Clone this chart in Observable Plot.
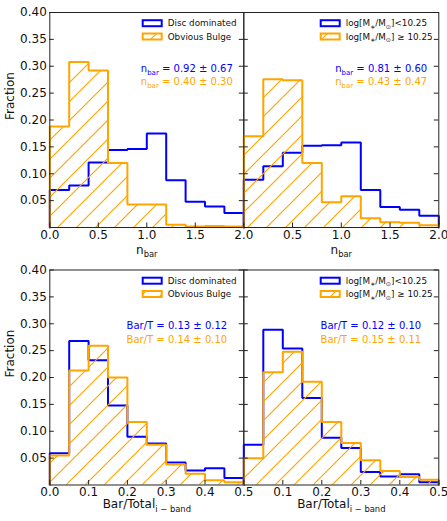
<!DOCTYPE html>
<html>
<head>
<meta charset="utf-8">
<script src="https://cdn.jsdelivr.net/npm/d3@7"></script>
<script src="https://cdn.jsdelivr.net/npm/@observablehq/plot@0.6"></script>
<style>
  body { margin: 0; background: #fff; }
  #fig { position: relative; width: 447px; height: 521px; font-family: "DejaVu Sans", sans-serif; }
  #fig svg { position: absolute; left: 0; top: 0; }
</style>
</head>
<body>
<div id="fig"></div>
<script>
// ---- bin edges ----
const nbarEdges = [0, 0.2, 0.4, 0.6, 0.8, 1.0, 1.2, 1.4, 1.6, 1.8, 2.0];
const barTEdges = [0, 0.05, 0.1, 0.15, 0.2, 0.25, 0.3, 0.35, 0.4, 0.45, 0.5];

// ---- fractions per bin: n_bar ----
const nbarDisc      = [0.070, 0.078, 0.121, 0.144, 0.146, 0.175, 0.088, 0.048, 0.039, 0.027];
const nbarBulge     = [0.188, 0.308, 0.292, 0.120, 0.043, 0.043, 0.005, 0.002, 0.003, 0.002];
const nbarLowMass   = [0.089, 0.114, 0.139, 0.152, 0.153, 0.158, 0.070, 0.038, 0.033, 0.022];
const nbarHighMass  = [0.170, 0.276, 0.274, 0.120, 0.047, 0.058, 0.017, 0.010, 0.009, 0.004];

// ---- fractions per bin: Bar/Total (i-band) ----
const barTDisc      = [0.059, 0.268, 0.232, 0.148, 0.090, 0.077, 0.042, 0.027, 0.031, 0.013];
const barTBulge     = [0.055, 0.213, 0.259, 0.200, 0.117, 0.075, 0.038, 0.021, 0.009, 0.005];
const barTLowMass   = [0.075, 0.289, 0.254, 0.162, 0.088, 0.069, 0.024, 0.016, 0.020, 0.005];
const barTHighMass  = [0.050, 0.210, 0.248, 0.192, 0.117, 0.078, 0.046, 0.026, 0.015, 0.010];

// ---- ticks ----
const yTicks     = [0.05, 0.10, 0.15, 0.20, 0.25, 0.30, 0.35, 0.40];
const nbarTicks  = [0, 0.5, 1.0, 1.5, 2.0];
const barTTicks  = [0, 0.1, 0.2, 0.3, 0.4, 0.5];

// ---- text ----
const morphLabels = ["Disc dominated", "Obvious Bulge"];
const massLabels  = ["log[M_{∗}/M_{⊙}]<10.25", "log[M_{∗}/M_{⊙}] ≥ 10.25"];
const nbarMorphStats = ["n_{bar} = 0.92 ± 0.67", "n_{bar} = 0.40 ± 0.30"];
const nbarMassStats  = ["n_{bar} = 0.81 ± 0.60", "n_{bar} = 0.43 ± 0.47"];
const barTMorphStats = ["Bar/T = 0.13 ± 0.12", "Bar/T = 0.14 ± 0.10"];
const barTMassStats  = ["Bar/T = 0.12 ± 0.10", "Bar/T = 0.15 ± 0.11"];
const yLabel = "Fraction";
const nbarLabel = "n_{bar}";
const barTLabel = "Bar/Total_{i − band}";

// ---- page layout ----
const W = 447, H = 521;
const cols = [[49.3, 243.3], [243.3, 438.3]];
const rows = [[12, 227], [269.5, 484.5]];
const ink = "#222";
const BLUE = "#0000ff", ORANGE = "#ffa500";

function binsOf(edges, vals) {
  return vals.map((y, i) => ({x1: edges[i], x2: edges[i + 1], y}));
}
function stepOf(edges, vals) {
  return [
    {x: edges[0], y: 0},
    ...binsOf(edges, vals).flatMap(d => [{x: d.x1, y: d.y}, {x: d.x2, y: d.y}]),
    {x: edges[edges.length - 1], y: 0}
  ];
}

// turn "_{...}" markup into subscript tspans
function richify(svg) {
  d3.select(svg).selectAll("text").each(function () {
    const s = this.textContent;
    if (!s.includes("_{")) return;
    const fs = parseFloat(getComputedStyle(this).fontSize) || 12;
    const shift = 0.3 * fs;
    const parts = s.split(/_\{([^}]*)\}/);
    this.textContent = "";
    let lowered = false;
    parts.forEach((p, i) => {
      if (!p) return;
      const ts = d3.select(this).append("tspan").text(p);
      if (i % 2) {
        ts.attr("font-size", 0.7 * fs);
        if (!lowered) ts.attr("dy", shift);
        lowered = true;
      } else if (lowered) {
        ts.attr("dy", -shift);
        lowered = false;
      }
    });
  });
}

let panelCount = 0;
function panel(cfg) {
  const [l, r] = cols[cfg.col];
  const [t, b] = rows[cfg.row];
  const pw = r - l, ph = b - t;
  const edges = cfg.edges;
  const hatchId = `hatch-${panelCount++}`;
  const fmtX = d3.format(".1f");
  const mid = {lineAnchor: "middle"};
  const marks = [
    Plot.line(stepOf(edges, cfg.blue), {x: "x", y: "y", stroke: BLUE, strokeWidth: 2, strokeLinejoin: "miter"}),
    Plot.rect(binsOf(edges, cfg.orange), {x1: "x1", x2: "x2", y1: d => 0, y2: "y", fill: `url(#${hatchId})`}),
    Plot.line(stepOf(edges, cfg.orange), {x: "x", y: "y", stroke: ORANGE, strokeWidth: 2, strokeLinejoin: "miter"}),
    Plot.frame({stroke: ink, strokeWidth: 1}),
    // inward ticks on left, right and bottom spines
    Plot.ruleY(yTicks, {y: d => d, insetRight: pw - 4.5, stroke: ink}),
    Plot.ruleY(yTicks, {y: d => d, insetLeft: pw - 4.5, stroke: ink}),
    Plot.ruleX(cfg.ticks, {x: d => d, insetTop: ph - 4.5, stroke: ink}),
    Plot.axisX(cfg.col === 0 ? cfg.ticks : cfg.ticks.slice(1), {
      tickSize: 0, tickPadding: cfg.row ? 2 : 3, tickFormat: fmtX, label: null, fontSize: 12
    }),
    Plot.text([cfg.xlabel], {...mid, text: d => d, frameAnchor: "bottom", dy: cfg.xlabelDy, fontSize: 12, fill: "#111"}),
    Plot.text([cfg.stats[0]], {...mid, text: d => d, frameAnchor: "top-right", textAnchor: "end",
      dx: cfg.statDx, dy: 56, fontSize: 10, fill: BLUE}),
    Plot.text([cfg.stats[1]], {...mid, text: d => d, frameAnchor: "top-right", textAnchor: "end",
      dx: cfg.statDx, dy: 69.3, fontSize: 10, fill: ORANGE})
  ];
  if (cfg.col === 0) {
    marks.push(
      Plot.axisY(yTicks, {tickSize: 0, tickPadding: 3, tickFormat: d3.format(".2f"), label: null, fontSize: 12}),
      Plot.text([yLabel], {...mid, text: d => d, frameAnchor: "left", dx: -39.3, rotate: -90, fontSize: 12, fill: "#111"})
    );
  }
  const svg = Plot.plot({
    width: W, height: H,
    marginLeft: l, marginRight: W - r, marginTop: t, marginBottom: H - b,
    x: {domain: [edges[0], edges[edges.length - 1]], axis: null},
    y: {domain: [0, 0.4], axis: null},
    style: {background: "transparent", fontFamily: "DejaVu Sans", fontSize: "12px", color: "#111", overflow: "visible"},
    marks
  });

  // diagonal hatch for the second histogram of the panel
  const pat = d3.select(svg).insert("defs", ":first-child")
    .append("pattern").attr("id", hatchId)
    .attr("patternUnits", "userSpaceOnUse").attr("width", 19).attr("height", 19);
  pat.append("path")
    .attr("d", "M-1,1 l2,-2 M0,19 l19,-19 M18,20 l2,-2")
    .attr("stroke", ORANGE).attr("stroke-width", 1.2).attr("fill", "none");

  // legend: outlined handles, hatched for the second entry
  const g = d3.select(svg).append("g")
    .attr("font-family", "DejaVu Sans").attr("font-size", 8.8)
    .attr("fill", "#111").attr("text-anchor", "start");
  cfg.legend.forEach((label, i) => {
    const y = t + 8.2 + i * 13.3;
    g.append("rect")
      .attr("x", l + cfg.legendDx).attr("y", y).attr("width", 19).attr("height", 6)
      .attr("fill", i ? `url(#${hatchId})` : "none")
      .attr("stroke", i ? ORANGE : BLUE).attr("stroke-width", 2);
    g.append("text")
      .attr("x", l + cfg.legendDx + 25).attr("y", y + 3).attr("dy", "0.35em")
      .text(label);
  });

  document.getElementById("fig").appendChild(svg);
  richify(svg);
}

panel({row: 0, col: 0, edges: nbarEdges, blue: nbarDisc, orange: nbarBulge, ticks: nbarTicks,
  xlabel: nbarLabel, xlabelDy: 22.5, stats: nbarMorphStats, statDx: -11, legend: morphLabels, legendDx: 93.4});
panel({row: 0, col: 1, edges: nbarEdges, blue: nbarLowMass, orange: nbarHighMass, ticks: nbarTicks,
  xlabel: nbarLabel, xlabelDy: 22.5, stats: nbarMassStats, statDx: -11.6, legend: massLabels, legendDx: 77.4});
panel({row: 1, col: 0, edges: barTEdges, blue: barTDisc, orange: barTBulge, ticks: barTTicks,
  xlabel: barTLabel, xlabelDy: 19.5, stats: barTMorphStats, statDx: -16.6, legend: morphLabels, legendDx: 93.4});
panel({row: 1, col: 1, edges: barTEdges, blue: barTLowMass, orange: barTHighMass, ticks: barTTicks,
  xlabel: barTLabel, xlabelDy: 19.5, stats: barTMassStats, statDx: -17.6, legend: massLabels, legendDx: 77.4});
</script>
</body>
</html>
